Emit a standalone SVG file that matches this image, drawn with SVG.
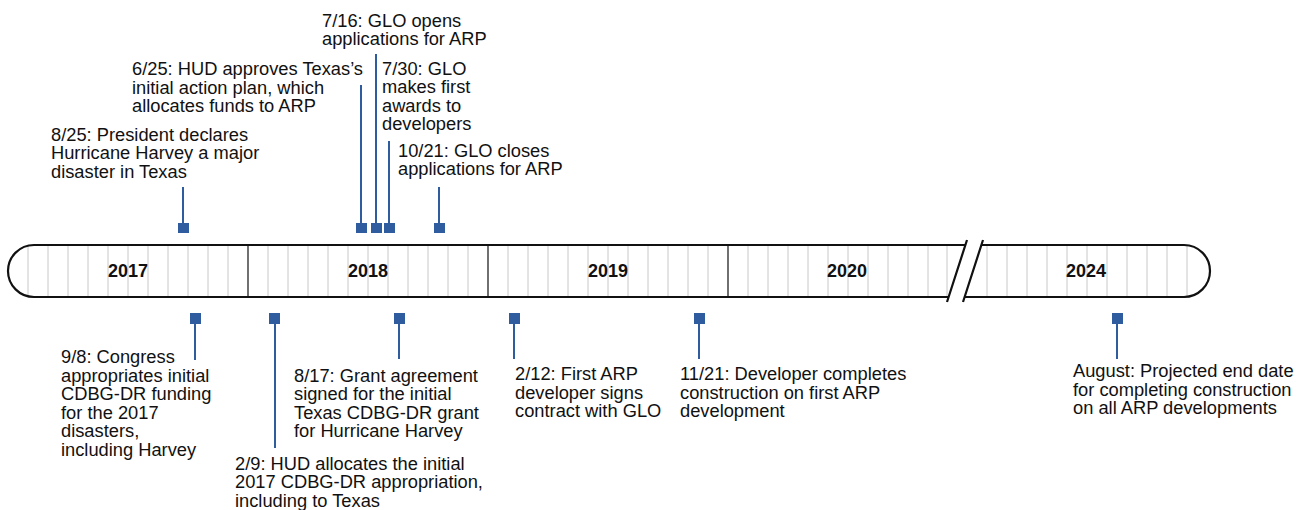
<svg xmlns="http://www.w3.org/2000/svg" width="1298" height="510" viewBox="0 0 1298 510">
<style>
.lbl{font-family:"Liberation Sans",Arial,sans-serif;font-size:18.3px;fill:#111}
.yr{font-family:"Liberation Sans",Arial,sans-serif;font-size:18px;font-weight:bold;fill:#111;text-anchor:middle}
.mo{stroke:#c8c8c8;stroke-width:1}
.ys{stroke:#111;stroke-width:1.2}
.con{stroke:#2f5c9e;stroke-width:2;fill:none}
.mk{fill:#2f5c9e}
.out{fill:none;stroke:#111;stroke-width:2.2}
</style>
<defs>
<clipPath id="clipA"><path d="M34,245 H965.7 L948.6,297 H34 A26,26 0 0 1 34,245 Z"/></clipPath>
<clipPath id="clipB"><path d="M981.7,245 H1184 A26,26 0 0 1 1184,297 H964.6 Z"/></clipPath>
</defs>
<g id="timeline">
<rect x="8" y="245" width="1202" height="52" fill="#fff" stroke="none"/>
<g clip-path="url(#clipA)">
<path class="mo" d="M28,245V297M48,245V297M68,245V297M88,245V297M108,245V297M128,245V297M148,245V297M168,245V297M188,245V297M208,245V297M228,245V297
M268,245V297M288,245V297M308,245V297M328,245V297M348,245V297M368,245V297M388,245V297M408,245V297M428,245V297M448,245V297M468,245V297
M508,245V297M528,245V297M548,245V297M568,245V297M588,245V297M608,245V297M628,245V297M648,245V297M668,245V297M688,245V297M708,245V297
M748,245V297M768,245V297M788,245V297M808,245V297M828,245V297M848,245V297M868,245V297M888,245V297M908,245V297M928,245V297M947,245V297"/>
<path class="ys" d="M248,245V297M488,245V297M728,245V297"/>
</g>
<g clip-path="url(#clipB)">
<path class="mo" d="M987,245V297M1007,245V297M1027,245V297M1047,245V297M1067,245V297M1087,245V297M1107,245V297M1127,245V297M1147,245V297M1167,245V297M1187,245V297"/>
</g>
<path class="out" d="M965.7,245 H34 A26,26 0 0 0 34,297 H948.6"/>
<path class="out" d="M964.6,297 H1184 A26,26 0 0 0 1184,245 H981.7"/>
<path class="out" d="M967,240 L947,302 M983,240 L963,302"/>
<text class="yr" x="128" y="277">2017</text>
<text class="yr" x="368" y="277">2018</text>
<text class="yr" x="608" y="277">2019</text>
<text class="yr" x="847" y="277">2020</text>
<text class="yr" x="1086" y="277">2024</text>
</g>
<g id="connectors">
<path class="con" d="M183,187V223M361,85V223M376,54V223M389,141V223M439,187V223"/>
<path class="con" d="M195,324V360M275,324V448M399,324V359M514,324V359M699,324V359M1117,324V359"/>
</g>
<g id="ev-0825"><rect class="mk" x="178" y="223" width="11" height="10"/>
<text class="lbl" x="51"><tspan x="51" y="140.5">8/25: President declares</tspan><tspan x="51" y="159.2">Hurricane Harvey a major</tspan><tspan x="51" y="178">disaster in Texas</tspan></text></g>
<g id="ev-0625"><rect class="mk" x="356" y="223" width="11" height="10"/>
<text class="lbl"><tspan x="132" y="75">6/25: HUD approves Texas’s</tspan><tspan x="132" y="93.5">initial action plan, which</tspan><tspan x="132" y="112">allocates funds to ARP</tspan></text></g>
<g id="ev-0716"><rect class="mk" x="371" y="223" width="11" height="10"/>
<text class="lbl"><tspan x="322" y="26.7">7/16: GLO opens</tspan><tspan x="322" y="45.2">applications for ARP</tspan></text></g>
<g id="ev-0730"><rect class="mk" x="384" y="223" width="11" height="10"/>
<text class="lbl"><tspan x="382" y="75">7/30: GLO</tspan><tspan x="382" y="93.4">makes first</tspan><tspan x="382" y="111.7">awards to</tspan><tspan x="382" y="130">developers</tspan></text></g>
<g id="ev-1021"><rect class="mk" x="434" y="223" width="11" height="10"/>
<text class="lbl"><tspan x="398" y="156.7">10/21: GLO closes</tspan><tspan x="398" y="175.2">applications for ARP</tspan></text></g>
<g id="ev-0908"><rect class="mk" x="190" y="313" width="11" height="11"/>
<text class="lbl"><tspan x="61" y="363.3">9/8: Congress</tspan><tspan x="61" y="381.8">appropriates initial</tspan><tspan x="61" y="400.3">CDBG-DR funding</tspan><tspan x="61" y="418.8">for the 2017</tspan><tspan x="61" y="437.3">disasters,</tspan><tspan x="61" y="455.8">including Harvey</tspan></text></g>
<g id="ev-0209"><rect class="mk" x="269" y="313" width="11" height="11"/>
<text class="lbl"><tspan x="235" y="470">2/9: HUD allocates the initial</tspan><tspan x="235" y="488.4">2017 CDBG-DR appropriation,</tspan><tspan x="235" y="506.8">including to Texas</tspan></text></g>
<g id="ev-0817"><rect class="mk" x="394" y="313" width="11" height="11"/>
<text class="lbl"><tspan x="294" y="381.7">8/17: Grant agreement</tspan><tspan x="294" y="400.1">signed for the initial</tspan><tspan x="294" y="418.5">Texas CDBG-DR grant</tspan><tspan x="294" y="436.9">for Hurricane Harvey</tspan></text></g>
<g id="ev-0212"><rect class="mk" x="509" y="313" width="11" height="11"/>
<text class="lbl"><tspan x="515" y="380">2/12: First ARP</tspan><tspan x="515" y="398.5">developer signs</tspan><tspan x="515" y="417">contract with GLO</tspan></text></g>
<g id="ev-1121"><rect class="mk" x="694" y="313" width="11" height="11"/>
<text class="lbl"><tspan x="680" y="380">11/21: Developer completes</tspan><tspan x="680" y="398.5">construction on first ARP</tspan><tspan x="680" y="417">development</tspan></text></g>
<g id="ev-aug"><rect class="mk" x="1112" y="313" width="11" height="11"/>
<text class="lbl"><tspan x="1073" y="377">August: Projected end date</tspan><tspan x="1073" y="395.5">for completing construction</tspan><tspan x="1073" y="414">on all ARP developments</tspan></text></g>
</svg>
